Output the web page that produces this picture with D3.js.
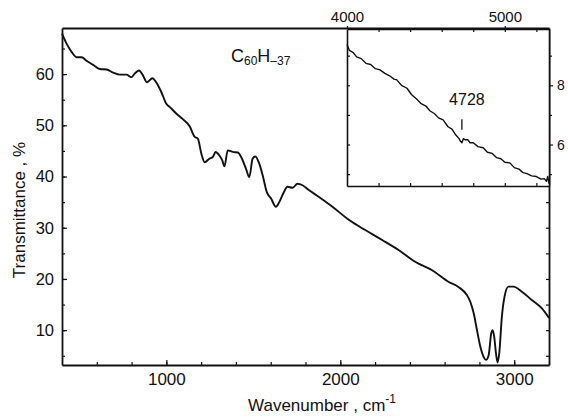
<!DOCTYPE html>
<html>
<head>
<meta charset="utf-8">
<script src="https://cdn.jsdelivr.net/npm/d3@7"></script>
<style>
  body { margin: 0; background: #fff; }
  svg { display: block; font-family: Arial, "Liberation Sans", sans-serif; }
</style>
</head>
<body>
<div id="chart"></div>
<script>
// IR spectrum of C60H-37, main range + overtone inset

// main spectrum (wavenumber, transmittance %)
const mainWave = [400, 427, 456, 484, 513, 541, 579, 618, 656, 694, 732, 771, 799, 818, 843, 866, 889, 920, 943, 971,
  1000, 1019, 1057, 1095, 1134, 1162, 1181, 1201, 1220, 1248, 1267, 1283, 1305, 1321, 1334, 1353, 1382, 1411, 1430,
  1458, 1477, 1496, 1512, 1531, 1554, 1577, 1602, 1630, 1649, 1672, 1697, 1726, 1754, 1783, 1821, 1865, 1955, 2051,
  2146, 2241, 2337, 2433, 2528, 2624, 2681, 2729, 2748, 2767, 2786, 2805, 2824, 2838, 2853, 2868, 2876, 2885, 2895,
  2904, 2914, 2929, 2944, 2967, 2996, 3044, 3101, 3158, 3200];
const mainTrans = [67.9, 65.9, 64.3, 63.3, 63.3, 62.6, 61.8, 61.0, 60.9, 60.3, 59.9, 59.9, 59.4, 60.1, 60.7, 59.7, 58.4, 59.2, 58.3, 56.5,
  54.2, 53.6, 52.3, 51.2, 49.8, 47.8, 47.4, 44.5, 42.8, 43.5, 43.8, 44.8, 44.1, 43.2, 42.0, 45.1, 44.8, 44.7, 43.8,
  41.5, 39.9, 43.5, 43.9, 42.8, 40.2, 37.0, 35.7, 34.1, 35.0, 36.7, 38.0, 37.8, 38.6, 38.3, 37.3, 36.3, 34.1, 31.5,
  29.5, 27.6, 25.6, 23.3, 21.7, 19.4, 18.4, 16.8, 15.5, 13.3, 10.0, 6.8, 4.8, 4.2, 5.1, 9.4, 10.0, 8.7, 5.5,
  3.7, 5.5, 12.6, 16.5, 18.5, 18.5, 17.5, 15.9, 14.3, 12.4];

// inset: near-IR range
const insetWave = [4000, 4015, 4040, 4061, 4090, 4120, 4150, 4180, 4209, 4240, 4270, 4300, 4314, 4345, 4380, 4410, 4441,
  4470, 4500, 4525, 4555, 4580, 4609, 4640, 4665, 4690, 4710, 4720, 4728, 4738, 4750, 4765, 4780, 4800, 4830, 4863,
  4890, 4920, 4947, 4975, 5000, 5032, 5060, 5090, 5116, 5140, 5170, 5200, 5230, 5250, 5264, 5272, 5280];
const insetTrans = [9.38, 9.18, 9.1, 8.96, 8.9, 8.74, 8.7, 8.56, 8.52, 8.4, 8.32, 8.2, 8.19, 8.0, 7.9, 7.68, 7.54,
  7.38, 7.3, 7.14, 7.04, 6.9, 6.83, 6.6, 6.52, 6.32, 6.2, 6.1, 6.06, 6.2, 6.16, 6.16, 6.06, 6.06, 5.93, 5.89,
  5.74, 5.7, 5.56, 5.52, 5.4, 5.38, 5.22, 5.17, 5.05, 5.02, 4.94, 4.92, 4.83, 4.85, 4.76, 4.92, 4.68];

const xTicks = [1000, 2000, 3000];
const yTicks = [10, 20, 30, 40, 50, 60];
const insetXTicks = [4000, 5000];
const insetYTicks = [6, 8];

const width = 568, height = 420;
const svg = d3.select("#chart").append("svg")
    .attr("width", width)
    .attr("height", height);

const x = d3.scaleLinear([400, 3200], [62, 549]);
const y = d3.scaleLinear([3.2, 69], [365, 28]);

const xi = d3.scaleLinear([4000, 5280], [347, 549]);
const yi = d3.scaleLinear([4.6, 9.9], [186, 29]);

function styleAxis(g, sw, fs) {
    g.selectAll("path").attr("stroke", "#111").attr("stroke-width", sw);
    g.selectAll("line").attr("stroke", "#111").attr("stroke-width", 1.2);
    g.selectAll("text").attr("fill", "#111").attr("font-size", fs || 16);
}

// --- main frame ---
svg.append("g").attr("transform", "translate(0,365)")
    .call(d3.axisBottom(x).tickValues(d3.range(600, 3201, 200)).tickSize(-3).tickSizeOuter(0).tickFormat(""))
    .call(g => styleAxis(g, 1.8));
svg.append("g").attr("transform", "translate(0,365)")
    .call(d3.axisBottom(x).tickValues(xTicks).tickSize(-5).tickSizeOuter(0).tickPadding(8).tickFormat(d3.format("d")))
    .call(g => { styleAxis(g, 1.8, 17); g.select(".domain").remove(); });

svg.append("g").attr("transform", "translate(62,0)")
    .call(d3.axisLeft(y).tickValues(d3.range(5, 66, 5)).tickSize(-3).tickSizeOuter(0).tickFormat(""))
    .call(g => styleAxis(g, 1.8));
svg.append("g").attr("transform", "translate(62,0)")
    .call(d3.axisLeft(y).tickValues(yTicks).tickSize(-5).tickSizeOuter(0).tickPadding(8).tickFormat(d3.format("d")))
    .call(g => { styleAxis(g, 1.8, 16.5); g.select(".domain").remove(); });

svg.append("g").attr("transform", "translate(549,0)")
    .call(d3.axisRight(y).tickValues(d3.range(5, 66, 5)).tickSize(-3).tickSizeOuter(0).tickFormat(""))
    .call(g => styleAxis(g, 1.8));
svg.append("g").attr("transform", "translate(0,28)")
    .call(d3.axisTop(x).tickValues([]).tickSizeOuter(0))
    .call(g => styleAxis(g, 1.8));

// main curve
const mainData = mainWave.map((w, i) => [w, mainTrans[i]]);
svg.append("path")
    .datum(mainData)
    .attr("fill", "none")
    .attr("stroke", "#111")
    .attr("stroke-width", 1.9)
    .attr("stroke-linejoin", "round")
    .attr("d", d3.line().x(d => x(d[0])).y(d => y(d[1])).curve(d3.curveMonotoneX));

// --- inset ---
svg.append("rect")
    .attr("x", 347).attr("y", 29).attr("width", 202).attr("height", 157)
    .attr("fill", "#fff").attr("stroke", "none");

svg.append("g").attr("transform", "translate(0,29)")
    .call(d3.axisTop(xi).tickValues(d3.range(4200, 5280, 200)).tickSize(-3).tickSizeOuter(0).tickFormat(""))
    .call(g => styleAxis(g, 1.6));
svg.append("g").attr("transform", "translate(0,29)")
    .call(d3.axisTop(xi).tickValues(insetXTicks).tickSize(3).tickSizeOuter(0).tickPadding(4).tickFormat(d3.format("d")))
    .call(g => { styleAxis(g, 1.6, 15); g.select(".domain").remove(); });
svg.append("g").attr("transform", "translate(0,186)")
    .call(d3.axisBottom(xi).tickValues(d3.range(4200, 5280, 200)).tickSize(-3).tickSizeOuter(0).tickFormat(""))
    .call(g => styleAxis(g, 1.6));
svg.append("g").attr("transform", "translate(347,0)")
    .call(d3.axisLeft(yi).tickValues([5, 6, 7, 8, 9]).tickSize(-3).tickSizeOuter(0).tickFormat(""))
    .call(g => styleAxis(g, 1.6));
svg.append("g").attr("transform", "translate(549,0)")
    .call(d3.axisRight(yi).tickValues([5, 7, 9]).tickSize(3).tickSizeOuter(0).tickFormat(""))
    .call(g => styleAxis(g, 1.6));
svg.append("g").attr("transform", "translate(549,0)")
    .call(d3.axisRight(yi).tickValues(insetYTicks).tickSize(4).tickSizeOuter(0).tickPadding(4).tickFormat(d3.format("d")))
    .call(g => { styleAxis(g, 1.6, 14); g.select(".domain").remove(); });

const insetData = insetWave.map((w, i) => [w, insetTrans[i]]);
svg.append("path")
    .datum(insetData)
    .attr("fill", "none")
    .attr("stroke", "#111")
    .attr("stroke-width", 1.4)
    .attr("stroke-linejoin", "round")
    .attr("d", d3.line().x(d => xi(d[0])).y(d => yi(d[1])));

// 4728 band marker
svg.append("line")
    .attr("x1", xi(4728)).attr("x2", xi(4728))
    .attr("y1", yi(6.85)).attr("y2", yi(6.5))
    .attr("stroke", "#111").attr("stroke-width", 1.3);
svg.append("text")
    .attr("x", xi(4728) + 5).attr("y", yi(7.35))
    .attr("text-anchor", "middle")
    .attr("font-size", 16).attr("fill", "#111")
    .text("4728");

// compound label
const title = svg.append("text").attr("x", 231).attr("y", 62).attr("font-size", 18).attr("fill", "#111");
title.append("tspan").text("C");
title.append("tspan").attr("font-size", 12).attr("dy", 3).text("60");
title.append("tspan").attr("dy", -3).text("H");
title.append("tspan").attr("font-size", 12).attr("dy", 3).text("\u201337");

// axis titles
svg.append("text")
    .attr("transform", "translate(25,210) rotate(-90)")
    .attr("text-anchor", "middle")
    .attr("font-size", 17).attr("fill", "#111")
    .text("Transmittance , %");

const xt = svg.append("text")
    .attr("x", 322).attr("y", 411)
    .attr("text-anchor", "middle")
    .attr("font-size", 17).attr("fill", "#111");
xt.append("tspan").text("Wavenumber , cm");
xt.append("tspan").attr("font-size", 12).attr("dy", -8).text("-1");
</script>
</body>
</html>
